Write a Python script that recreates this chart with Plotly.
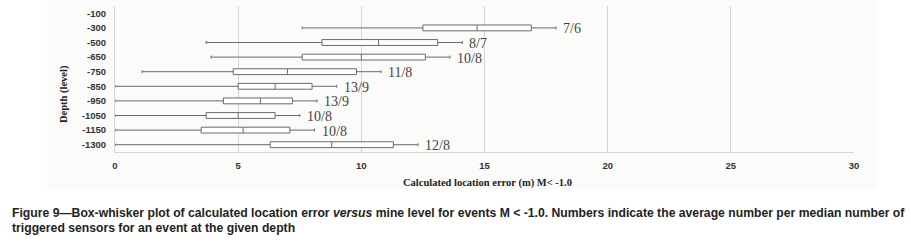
import plotly.graph_objects as go

# ---- data ----
depths = ["-100", "-300", "-500", "-650", "-750", "-850", "-950", "-1050", "-1150", "-1300"]
box_depths = ["-300", "-500", "-650", "-750", "-850", "-950", "-1050", "-1150", "-1300"]
lower_whisker = [7.6, 3.7, 3.9, 1.1, 0.0, 0.0, 0.0, 0.0, 0.0]
q1_vals = [12.5, 8.4, 7.6, 4.8, 5.0, 4.4, 3.7, 3.5, 6.3]
median_vals = [14.7, 10.7, 10.0, 7.0, 6.5, 5.9, 5.0, 5.2, 8.8]
q3_vals = [16.9, 13.1, 12.6, 9.8, 8.0, 7.2, 6.5, 7.1, 11.3]
upper_whisker = [17.9, 14.1, 13.6, 10.8, 9.0, 8.2, 7.5, 8.1, 12.3]
sensor_labels = ["7/6", "8/7", "10/8", "11/8", "13/9", "13/9", "10/8", "10/8", "12/8"]
x_ticks = [0, 5, 10, 15, 20, 25, 30]

caption1 = ("Figure 9\u2014Box-whisker plot of calculated location error <i>versus</i> mine level for events M < -1.0. "
            "Numbers indicate the average number per median number of")
caption2 = "triggered sensors for an event at the given depth"

# ---- figure ----
L, R, T, B = 115, 57, 6, 91
W, H = 911, 243
pw, ph = W - L - R, H - T - B

def px_to_paper_x(px):
    return (px - L) / pw

def px_to_paper_y(py):
    return (H - B - py) / ph

cat_order = depths[::-1]  # bottom to top

fig = go.Figure()
fig.add_trace(go.Box(
    y=box_depths,
    q1=q1_vals, median=median_vals, q3=q3_vals,
    lowerfence=lower_whisker, upperfence=upper_whisker,
    orientation="h",
    fillcolor="white",
    line=dict(color="#6a6a6a", width=1),
    whiskerwidth=0.5,
    width=0.4,
    boxpoints=False,
    showlegend=False,
    hoverinfo="skip",
))

annotations = []
for d, uw, lab in zip(box_depths, upper_whisker, sensor_labels):
    annotations.append(dict(
        x=uw, y=cat_order.index(d), xref="x", yref="y", text=lab, showarrow=False,
        xanchor="left", yanchor="middle", xshift=5, yshift=-1,
        font=dict(family="Liberation Serif", size=14, color="#444444"),
    ))

annotations.append(dict(
    x=px_to_paper_x(487), y=px_to_paper_y(183), xref="paper", yref="paper",
    text="<b>Calculated location error (m) M< -1.0</b>", showarrow=False,
    xanchor="center", yanchor="middle",
    font=dict(family="Liberation Serif", size=10.5, color="#222222"),
))
annotations.append(dict(
    x=px_to_paper_x(64), y=px_to_paper_y(94), xref="paper", yref="paper",
    text="<b>Depth (level)</b>", showarrow=False, textangle=-90,
    xanchor="center", yanchor="middle",
    font=dict(family="Liberation Serif", size=10.5, color="#222222"),
))
annotations.append(dict(
    x=px_to_paper_x(10), y=px_to_paper_y(213), xref="paper", yref="paper",
    text="<b>" + caption1 + "</b>", showarrow=False,
    xanchor="left", yanchor="middle",
    font=dict(family="Liberation Sans", size=12.2, color="#222222"),
))
annotations.append(dict(
    x=px_to_paper_x(10), y=px_to_paper_y(228), xref="paper", yref="paper",
    text="<b>" + caption2 + "</b>", showarrow=False,
    xanchor="left", yanchor="middle",
    font=dict(family="Liberation Sans", size=12.2, color="#222222"),
))

fig.add_shape(type="rect", xref="paper", yref="paper",
              x0=px_to_paper_x(47), x1=px_to_paper_x(877),
              y0=px_to_paper_y(189), y1=px_to_paper_y(0),
              fillcolor="#fbfbf9", line=dict(width=0), layer="below")

fig.update_layout(
    width=W, height=H,
    margin=dict(l=L, r=R, t=T, b=B, pad=0),
    paper_bgcolor="white",
    plot_bgcolor="rgba(0,0,0,0)",
    annotations=annotations,
    xaxis=dict(
        range=[0, 30], tickvals=x_ticks, ticktext=[str(v) for v in x_ticks],
        showgrid=True, gridcolor="#d4d4d4", gridwidth=1,
        zeroline=False, showline=True, linecolor="#d4d4d4", linewidth=1,
        ticks="", ticklabelstandoff=5,
        tickfont=dict(family="Liberation Sans", size=9.5, color="#333333", weight="bold"),
        fixedrange=True,
    ),
    yaxis=dict(
        type="category", categoryorder="array", categoryarray=cat_order,
        range=[-0.5, len(depths) - 0.5],
        showgrid=False, zeroline=False, showline=True, linecolor="#d4d4d4", linewidth=1,
        ticks="", ticklabelstandoff=6,
        tickfont=dict(family="Liberation Sans", size=9.5, color="#333333", weight="bold"),
        fixedrange=True,
    ),
)

fig.write_html(
    "out.html",
    config={"displayModeBar": False},
    post_script="document.body.style.margin='0';document.body.style.padding='0';",
)
